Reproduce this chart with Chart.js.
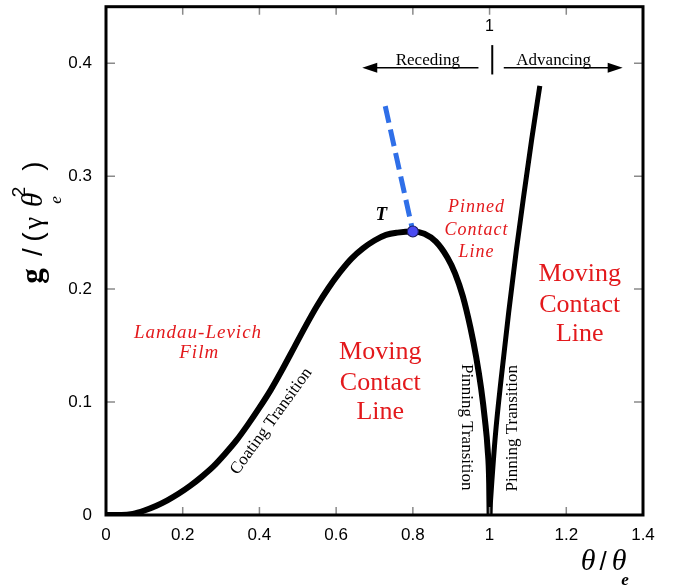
<!DOCTYPE html>
<html>
<head>
<meta charset="utf-8">
<script src="https://cdn.jsdelivr.net/npm/chart.js@4.4.1/dist/chart.umd.min.js"></script>
<style>
  html, body { margin: 0; padding: 0; background: #ffffff; }
  canvas { display: block; }
</style>
</head>
<body>
<canvas id="c" width="673" height="587"></canvas>
<script>
// ---- data ----
const coatingX = [0, 0.04, 0.07, 0.10, 0.13, 0.16, 0.19, 0.22, 0.25, 0.28, 0.31, 0.34, 0.37, 0.40, 0.43, 0.46, 0.49, 0.52, 0.55, 0.58, 0.61, 0.64, 0.67, 0.70, 0.73, 0.76, 0.80, 0.83, 0.86, 0.89, 0.91, 0.93, 0.95, 0.965, 0.978, 0.988, 0.995, 0.999, 1.0];
const coatingG = [0, 0, 0.001, 0.004, 0.008, 0.013, 0.019, 0.026, 0.034, 0.043, 0.054, 0.066, 0.080, 0.095, 0.111, 0.129, 0.148, 0.167, 0.185, 0.201, 0.215, 0.227, 0.236, 0.243, 0.248, 0.250, 0.251, 0.249, 0.242, 0.228, 0.214, 0.194, 0.166, 0.140, 0.112, 0.084, 0.058, 0.028, 0.0];
const advancingX = [1.0, 1.006, 1.015, 1.03, 1.05, 1.07, 1.09, 1.11, 1.131];
const advancingG = [0.0, 0.030, 0.070, 0.120, 0.180, 0.235, 0.285, 0.333, 0.380];
const dashedX = [0.728, 0.80];
const dashedG = [0.362, 0.251];
const pointTX = [0.80];
const pointTG = [0.251];
const xTickValues = [0, 0.2, 0.4, 0.6, 0.8, 1.0, 1.2, 1.4];
const xTickLabels = ['0', '0.2', '0.4', '0.6', '0.8', '1', '1.2', '1.4'];
const yTickValues = [0, 0.1, 0.2, 0.3, 0.4];
const yTickLabels = ['0', '0.1', '0.2', '0.3', '0.4'];

const toXY = (xs, ys) => xs.map((x, i) => ({ x: x, y: ys[i] }));

const RED = '#e3191c';
const SERIF = '"Liberation Serif", "DejaVu Serif", serif';
const SANS = '"Liberation Sans", Arial, sans-serif';

function txt(ctx, s, x, y, font, color, angle, align, base, spacing) {
  ctx.save();
  ctx.translate(x, y);
  if (angle) ctx.rotate(angle);
  ctx.font = font;
  ctx.fillStyle = color;
  ctx.textAlign = align || 'center';
  ctx.textBaseline = base || 'middle';
  ctx.letterSpacing = spacing || '0px';
  ctx.fillText(s, 0, 0);
  ctx.restore();
}

function arrowHead(ctx, tipX, tipY, dir) {
  ctx.beginPath();
  ctx.moveTo(tipX, tipY);
  ctx.lineTo(tipX - dir * 15, tipY - 5);
  ctx.lineTo(tipX - dir * 15, tipY + 5);
  ctx.closePath();
  ctx.fill();
}

const decorations = {
  id: 'decorations',
  afterDatasetsDraw(chart) {
    const ctx = chart.ctx;
    const xs = chart.scales.x, ys = chart.scales.y;
    const a = chart.chartArea;
    const px = v => xs.getPixelForValue(v);
    const py = v => ys.getPixelForValue(v);

    // inward ticks on all four sides
    ctx.save();
    ctx.strokeStyle = '#8a8a8a';
    ctx.lineWidth = 1.5;
    ctx.beginPath();
    xTickValues.forEach(v => {
      const X = px(v);
      if (v > 0 && v < 1.4) {
        ctx.moveTo(X, a.bottom); ctx.lineTo(X, a.bottom - 8);
        ctx.moveTo(X, a.top); ctx.lineTo(X, a.top + 8);
      }
    });
    yTickValues.forEach(v => {
      const Y = py(v);
      if (v > 0) {
        ctx.moveTo(a.left, Y); ctx.lineTo(a.left + 9, Y);
        ctx.moveTo(a.right, Y); ctx.lineTo(a.right - 9, Y);
      }
    });
    ctx.stroke();
    ctx.restore();

    // frame
    ctx.save();
    ctx.strokeStyle = '#000';
    ctx.lineWidth = 3;
    ctx.strokeRect(a.left, a.top, a.right - a.left, a.bottom - a.top);
    ctx.restore();

    // Receding / Advancing arrows
    ctx.save();
    ctx.strokeStyle = '#000';
    ctx.fillStyle = '#000';
    ctx.lineWidth = 1.6;
    const yA = py(0.396);
    ctx.beginPath();
    ctx.moveTo(px(0.971), yA); ctx.lineTo(px(0.668) + 12, yA);
    ctx.moveTo(px(1.037), yA); ctx.lineTo(px(1.347) - 12, yA);
    ctx.stroke();
    arrowHead(ctx, px(0.668), yA, -1);
    arrowHead(ctx, px(1.347), yA, 1);
    ctx.lineWidth = 2;
    ctx.beginPath();
    ctx.moveTo(px(1.007), py(0.416)); ctx.lineTo(px(1.007), py(0.39));
    ctx.stroke();
    ctx.restore();
    txt(ctx, 'Receding', px(0.839), yA - 3, '17px ' + SERIF, '#000', 0, 'center', 'alphabetic');
    txt(ctx, 'Advancing', px(1.167), yA - 3, '17px ' + SERIF, '#000', 0, 'center', 'alphabetic');
    txt(ctx, '1', px(1.0), py(0.432), '16px ' + SANS, '#000');

    // region labels
    txt(ctx, 'Landau-Levich', px(0.240), py(0.1615), 'italic 19px ' + SERIF, RED, 0, 'center', 'middle', '1px');
    txt(ctx, 'Film', px(0.243), py(0.143), 'italic 19px ' + SERIF, RED, 0, 'center', 'middle', '1px');
    ['Moving', 'Contact', 'Line'].forEach((s, i) => {
      txt(ctx, s, px(0.715), py([0.144, 0.117, 0.091][i]), '26px ' + SERIF, RED);
      txt(ctx, s, px(1.235), py([0.2136, 0.186, 0.160][i]), '26px ' + SERIF, RED);
    });
    ['Pinned', 'Contact', 'Line'].forEach((s, i) => {
      txt(ctx, s, px(0.966), py([0.272, 0.252, 0.233][i]), 'italic 18px ' + SERIF, RED, 0, 'center', 'middle', '1px');
    });
    txt(ctx, 'T', px(0.718), py(0.2657), 'bold italic 19px ' + SERIF, '#000');
    txt(ctx, 'Coating Transition', px(0.431), py(0.0830), '17px ' + SERIF, '#000', -54 * Math.PI / 180);
    txt(ctx, 'Pinning Transition', px(0.94), py(0.0777), '17px ' + SERIF, '#000', Math.PI / 2);
    txt(ctx, 'Pinning Transition', px(1.06), py(0.0768), '17px ' + SERIF, '#000', -Math.PI / 2);

    // y axis title: g / (γ θe²)
    ctx.save();
    ctx.translate(42, 0);
    ctx.rotate(-Math.PI / 2);
    ctx.fillStyle = '#000';
    ctx.textAlign = 'center';
    ctx.textBaseline = 'alphabetic';
    const yg = [
      ['g', -276, 0, 'bold 31px ' + SERIF],
      ['/', -252, 0, '28px ' + SANS],
      ['(', -237, 0, '28px ' + SANS],
      ['\u03B3', -223, 0, '28px ' + SERIF],
      ['\u03B8', -200, 0, 'italic 30px ' + SERIF],
      ['2', -192, -17, '19px ' + SANS],
      ['e', -200, 19, 'italic 17px ' + SERIF],
      [')', -166, 0, '28px ' + SANS]
    ];
    yg.forEach(g => { ctx.font = g[3]; ctx.fillText(g[0], g[1], g[2]); });
    ctx.restore();

    // x axis title: θ / θe
    ctx.save();
    ctx.fillStyle = '#000';
    ctx.textAlign = 'center';
    ctx.textBaseline = 'alphabetic';
    const xg = [
      ['\u03B8', 588, 570, 'italic 30px ' + SERIF],
      ['/', 603, 570, '26px ' + SANS],
      ['\u03B8', 619, 570, 'italic 30px ' + SERIF],
      ['e', 625, 585, 'bold italic 17px ' + SERIF]
    ];
    xg.forEach(g => { ctx.font = g[3]; ctx.fillText(g[0], g[1], g[2]); });
    ctx.restore();
  }
};

new Chart(document.getElementById('c'), {
  type: 'scatter',
  data: {
    datasets: [
      {
        data: toXY(pointTX, pointTG),
        showLine: false,
        pointRadius: 5.5,
        pointBackgroundColor: '#4b4bf2',
        pointBorderColor: '#1b1b5c',
        pointBorderWidth: 1.2,
        order: 0
      },
      {
        data: toXY(dashedX, dashedG),
        showLine: true,
        borderColor: '#2f6fe8',
        borderWidth: 5,
        borderDash: [17, 7],
        pointRadius: 0,
        order: 2
      },
      {
        data: toXY(coatingX, coatingG),
        showLine: true,
        borderColor: '#000',
        borderWidth: 6,
        cubicInterpolationMode: 'monotone',
        pointRadius: 0,
        order: 1
      },
      {
        data: toXY(advancingX, advancingG),
        showLine: true,
        borderColor: '#000',
        borderWidth: 5,
        cubicInterpolationMode: 'monotone',
        pointRadius: 0,
        order: 1
      }
    ]
  },
  options: {
    responsive: false,
    animation: false,
    devicePixelRatio: 1,
    layout: { padding: { left: 0, right: 30, top: 4, bottom: 0 } },
    plugins: { legend: { display: false }, tooltip: { enabled: false } },
    scales: {
      x: {
        type: 'linear',
        min: 0, max: 1.4,
        grid: { display: false, drawTicks: false },
        border: { display: false },
        afterBuildTicks: s => { s.ticks = xTickValues.map(v => ({ value: v })); },
        afterFit: s => { s.height = 72; s.paddingLeft = 0; s.paddingRight = 0; },
        ticks: {
          padding: 10,
          maxRotation: 0,
          autoSkip: false,
          color: '#000',
          font: { family: 'Liberation Sans', size: 17 },
          callback: (v, i) => xTickLabels[i]
        }
      },
      y: {
        type: 'linear',
        min: 0, max: 0.45,
        grid: { display: false, drawTicks: false },
        border: { display: false },
        afterBuildTicks: s => { s.ticks = yTickValues.map(v => ({ value: v })); },
        afterFit: s => { s.width = 106; s.paddingTop = 0; s.paddingBottom = 0; },
        ticks: {
          padding: 14,
          color: '#000',
          font: { family: 'Liberation Sans', size: 17 },
          callback: (v, i) => yTickLabels[i]
        }
      }
    }
  },
  plugins: [decorations]
});
</script>
</body>
</html>
